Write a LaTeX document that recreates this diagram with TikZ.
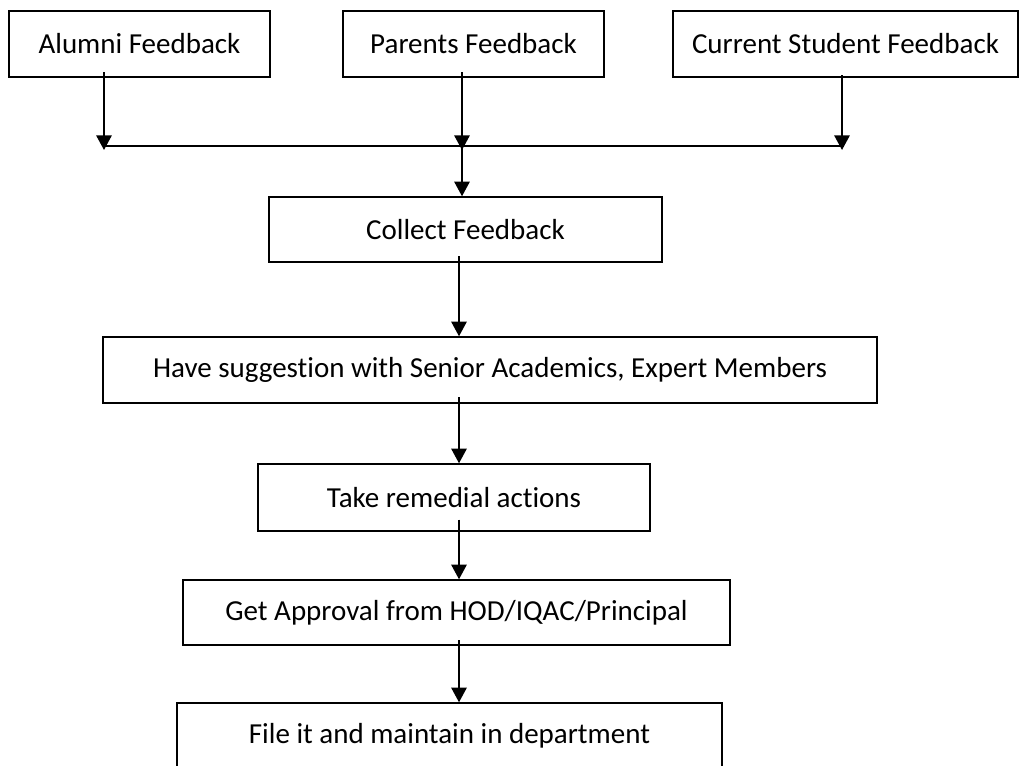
\documentclass[tikz,border=0pt]{standalone}
\usepackage{fontspec}
\setmainfont{Carlito}[Ligatures={NoCommon}]
\usetikzlibrary{arrows.meta}
\begin{document}
\begin{tikzpicture}[x=0.75pt,y=-0.75pt,
  stepbox/.style 2 args={draw, line width=1.1pt, inner sep=0pt,
    minimum width=#1*0.75pt, minimum height=#2*0.75pt,
    font=\fontsize{21.75}{26}\selectfont},
  flow/.style={-{Triangle[width=11.5pt,length=11pt]}, line width=1.5pt},
  bus/.style={line width=1.1pt}]
\useasboundingbox (0,0) rectangle (1019,765);
\clip (0,0) rectangle (1019,765);

% feedback sources
\node[stepbox={261}{66}] (alumni)  at (139.5,44) {Alumni Feedback};
\node[stepbox={261}{66}] (parents) at (473.5,44) {Parents Feedback};
\node[stepbox={345}{66}] (current) at (845.5,44) {Current Student Feedback};

% process steps
\node[stepbox={393}{65}] (collect)  at (465.5,229.5) {Collect Feedback};
\node[stepbox={774}{66}] (suggest)  at (490,370) {Have suggestion with Senior Academics, Expert Members};
\node[stepbox={392}{67}] (remedial) at (454,497.5) {Take remedial actions};
\node[stepbox={547}{65}] (approval) at (456.5,612.5) {Get Approval from HOD/IQAC/Principal};
\node[stepbox={545}{66}] (file)     at (449.5,736) {File it and maintain in department};

% collecting bus
\coordinate (busL) at (104,146);
\coordinate (busM) at (462,146);
\coordinate (busR) at (842,146);
\coordinate (spine) at (459,0);
\draw[bus] (busL) -- (busR);

\draw[flow] ([yshift=4pt]alumni.south -| busL)  -- ([yshift=-3pt]busL);
\draw[flow] ([yshift=4pt]parents.south -| busM) -- ([yshift=-3pt]busM);
\draw[flow] ([yshift=2pt]current.south -| busR) -- ([yshift=-3pt]busR);
\draw[flow] (busM) -- (busM |- collect.north);

\draw[flow] ([yshift=5pt]collect.south -| spine)  -- (suggest.north -| spine);
\draw[flow] ([yshift=5pt]suggest.south -| spine)  -- (remedial.north -| spine);
\draw[flow] ([yshift=9pt]remedial.south -| spine) -- (approval.north -| spine);
\draw[flow] ([yshift=4pt]approval.south -| spine) -- (file.north -| spine);
\end{tikzpicture}
\end{document}
